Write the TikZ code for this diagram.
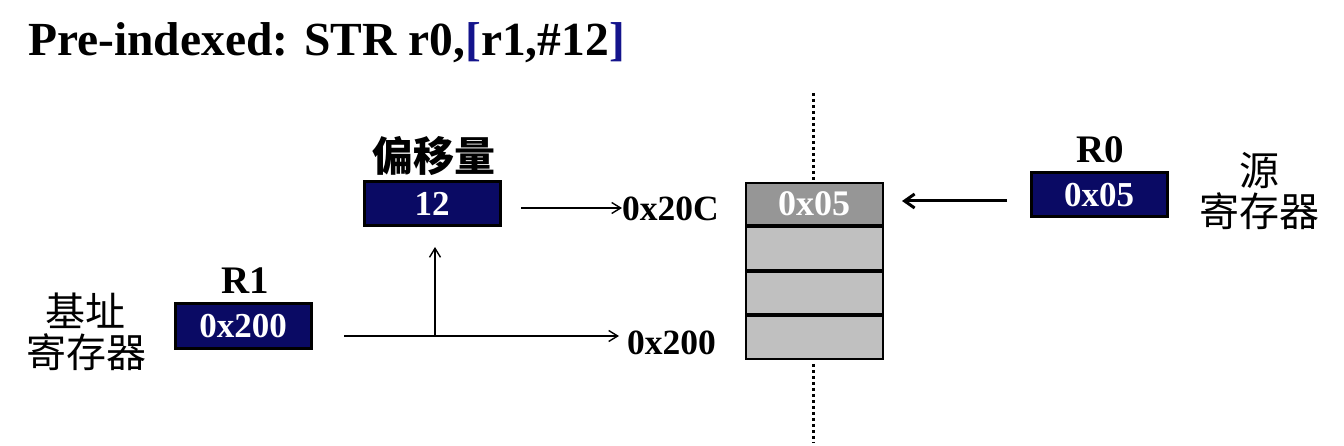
\documentclass[tikz,border=0pt]{standalone}
\usepackage{fontspec}
\setmainfont{Liberation Serif}
\newfontfamily\cjk{Noto Sans CJK SC}
\usetikzlibrary{arrows.meta}
\definecolor{regnavy}{RGB}{10,10,100}
\definecolor{brblue}{RGB}{20,20,140}
\definecolor{memdark}{RGB}{150,150,150}
\definecolor{memlight}{RGB}{192,192,192}
\begin{document}
\begin{tikzpicture}[x=1pt,y=-1pt,
  regbox/.style={draw=black,line width=3pt,fill=regnavy,text=white,minimum width=136pt,minimum height=44pt,inner sep=0pt,font=\fontsize{35}{36}\selectfont\bfseries},
  lbl/.style={inner sep=0pt,font=\fontsize{39}{40}\selectfont\bfseries},
  addr/.style={inner sep=0pt,font=\fontsize{35.5}{38}\selectfont\bfseries},
  cjklbl/.style={inner sep=0pt,align=center,font=\fontsize{40}{41}\selectfont\cjk},
  memcell/.style={draw=black,line width=2pt,fill=memlight,minimum width=137pt,minimum height=42.5pt,inner sep=0pt},
  thinarrow/.style={line width=1.4pt,-{Straight Barb[length=9pt,width=11pt]}},
  thickarrow/.style={line width=3pt,-{Straight Barb[length=10pt,width=14pt]}}]
\useasboundingbox (0,0) rectangle (1344,446);
% title
\node[anchor=base west,inner sep=0pt,font=\fontsize{47.5}{50}\selectfont\bfseries] (title) at (28,56)
  {Pre-indexed: STR r0,{\color{brblue}[}r1,\#12{\color{brblue}]}};
% offset register
\node[inner sep=0pt,font=\fontsize{41}{42}\selectfont\cjk\bfseries] (offlbl) at (434,156) {偏移量};
\node[regbox] (off) at (432,204) {12};
% base register
\node[lbl] (r1lbl) at (245,281) {R1};
\node[regbox] (r1) at (243,326) {0x200};
\node[cjklbl] (baselbl) at (86,332) {基址\\寄存器};
% source register
\node[lbl] (r0lbl) at (1100,150) {R0};
\node[regbox] (r0) at (1099,195) {0x05};
\node[cjklbl] (srclbl) at (1259,191) {源\\寄存器};
% addresses
\node[addr,anchor=west] (a20c) at (622,209) {0x20C};
\node[addr,anchor=west] (a200) at (627,343) {0x200};
% memory
\node[memcell,fill=memdark,text=white,font=\fontsize{36}{38}\selectfont\bfseries] (m0) at (814,204) {0x05};
\node[memcell,anchor=north] (m1) at (m0.south) {};
\node[memcell,anchor=north] (m2) at (m1.south) {};
\node[memcell,anchor=north] (m3) at (m2.south) {};
\coordinate (dtop) at (813,93);
\coordinate (dbot) at (813,442);
\draw[line width=3pt,dash pattern=on 3pt off 3pt] (dtop) -- (m0.north -| dtop);
\draw[line width=3pt,dash pattern=on 3pt off 3pt] (m3.south -| dbot) ++(0,4) -- (dbot);
% connectors
\coordinate (hstart) at (344,336);
\coordinate (hend) at (619,336);
\coordinate (branch) at (435,336);
\coordinate (vend) at (435,247);
\coordinate (ostart) at (521,208);
\draw[thinarrow] (hstart) -- (hend);
\draw[thinarrow] (branch) -- (vend);
\draw[thinarrow] (ostart) -- (ostart -| a20c.west);
\coordinate (r0start) at (1007,201);
\coordinate (r0end) at (902,201);
\draw[thickarrow] (r0start) -- (r0end);
\end{tikzpicture}
\end{document}
